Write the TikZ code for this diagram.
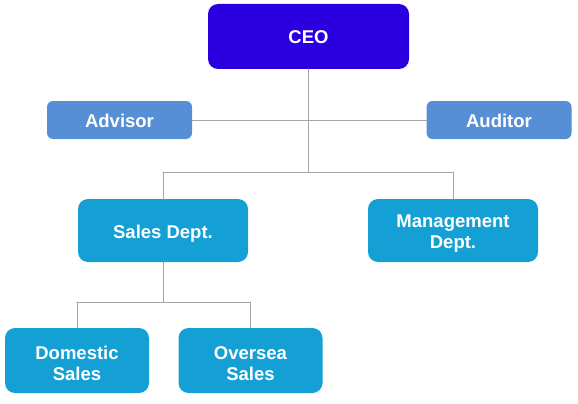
\documentclass[tikz,border=0pt]{standalone}
\usepackage{fontspec}
\setmainfont{Liberation Sans}
\definecolor{ceoblue}{RGB}{42,0,224}
\definecolor{staffblue}{RGB}{86,143,214}
\definecolor{deptblue}{RGB}{20,160,212}
\definecolor{linkgray}{RGB}{166,166,166}
\begin{document}
\begin{tikzpicture}[x=1pt, y=-1pt, line cap=round, line join=round,
    unit/.style={text=white, font=\fontsize{18.5}{21}\selectfont\bfseries,
      align=center, inner sep=0pt, outer sep=0pt},
    oneline/.style={text height=19pt, text depth=4pt},
    ceobox/.style={unit, oneline, fill=ceoblue, rounded corners=10pt,
      minimum width=201pt, minimum height=65pt},
    staffbox/.style={unit, oneline, fill=staffblue, rounded corners=6pt,
      minimum width=145pt, minimum height=38pt},
    deptbox/.style={unit, fill=deptblue, rounded corners=10pt,
      minimum width=170pt, minimum height=63pt},
    subbox/.style={unit, fill=deptblue, rounded corners=10pt,
      minimum width=144pt, minimum height=65pt},
    link/.style={draw=linkgray, line width=1pt}]
  \useasboundingbox (0,0) rectangle (578,404);
  \node[ceobox] (ceo) at (308.5,36.5) {CEO};
  \node[staffbox] (advisor) at (119.5,120) {Advisor};
  \node[staffbox] (auditor) at (499,120) {Auditor};
  \node[deptbox, oneline] (sales) at (163,230.5) {Sales Dept.};
  \node[deptbox] (mgmt) at (453,230.5) {\rule{0pt}{19.5pt}Management\\Dept.};
  \node[subbox] (domestic) at (77,360.5) {\rule{0pt}{19.5pt}Domestic\\Sales};
  \node[subbox] (oversea) at (250.5,360.5) {\rule{0pt}{19.5pt}Oversea\\Sales};
  \coordinate (topmid) at (308.5,172);
  \coordinate (topleft) at (163,172);
  \coordinate (topright) at (453,172);
  \coordinate (salesmid) at (163,302);
  \coordinate (salesleft) at (77,302);
  \coordinate (salesright) at (250.5,302);
  \draw[link] (advisor.east) -- (auditor.west);
  \draw[link] (ceo.south) -- (topmid);
  \draw[link] (topleft) -- (topright);
  \draw[link] (topleft) -- (sales.north);
  \draw[link] (topright) -- (mgmt.north);
  \draw[link] (sales.south) -- (salesmid);
  \draw[link] (salesleft) -- (salesright);
  \draw[link] (salesleft) -- (domestic.north);
  \draw[link] (salesright) -- (oversea.north);
\end{tikzpicture}
\end{document}
